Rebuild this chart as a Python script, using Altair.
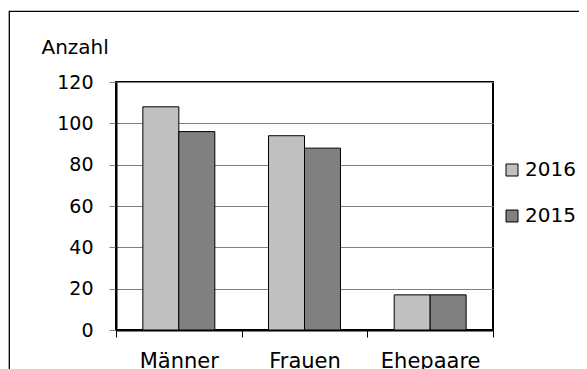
import altair as alt
import pandas as pd

categories = ["Männer", "Frauen", "Ehepaare"]
years = ["2016", "2015"]
values_2016 = [108, 94, 17]
values_2015 = [96, 88, 17]
y_ticks = [0, 20, 40, 60, 80, 100, 120]
colors = ["#c0c0c0", "#808080"]

rows = []
for i, c in enumerate(categories):
    rows.append({"Kategorie": c, "Jahr": "2016", "Anzahl": values_2016[i]})
    rows.append({"Kategorie": c, "Jahr": "2015", "Anzahl": values_2015[i]})
df = pd.DataFrame(rows)

FONT = "DejaVu Sans"

bars = alt.Chart(df).mark_bar(stroke="black", strokeWidth=1).encode(
    x=alt.X("Kategorie:N", sort=categories,
            scale=alt.Scale(paddingInner=0, paddingOuter=0),
            axis=alt.Axis(title=None, labelAngle=0, tickBand="extent",
                          domainColor="black", domainWidth=2,
                          tickColor="black", tickWidth=1, tickSize=7,
                          labelFont=FONT, labelFontSize=21, labelColor="black",
                          labelBaseline="alphabetic", labelPadding=30, grid=False)),
    xOffset=alt.XOffset("Jahr:N", sort=years,
                        scale=alt.Scale(paddingInner=0, paddingOuter=0.746)),
    y=alt.Y("Anzahl:Q", scale=alt.Scale(domain=[0, 120], nice=False),
            axis=alt.Axis(values=y_ticks, title="Anzahl", titleAngle=0,
                          titleAlign="left", titleBaseline="alphabetic",
                          titleX=-75, titleY=-29, titleFont=FONT, titleFontSize=20,
                          titleFontWeight="normal", titleColor="black",
                          labelFont=FONT, labelFontSize=19, labelColor="black",
                          labelPadding=16, tickSize=7, tickColor="#808080",
                          gridColor="#808080", gridWidth=1,
                          domainColor="black", domainWidth=2)),
    fill=alt.Fill("Jahr:N", sort=years,
                  scale=alt.Scale(domain=years, range=colors),
                  legend=alt.Legend(title=None, orient="none", legendX=386, legendY=78,
                                    symbolType="square", symbolSize=144,
                                    symbolStrokeColor="black", symbolStrokeWidth=1,
                                    labelFont=FONT, labelFontSize=20, labelColor="black",
                                    labelOffset=3, rowPadding=26, padding=0)),
)

frame = alt.Chart(pd.DataFrame({"a": [0]})).mark_rect(
    filled=False, stroke="black", strokeWidth=1.3
).encode(
    x=alt.value(-106.7), x2=alt.value(600),
    y=alt.value(-70.7), y2=alt.value(400),
)

chart = alt.layer(frame, bars).properties(
    width=377, height=248,
    autosize=alt.AutoSizeParams(type="none"),
    padding={"left": 108, "top": 74, "right": 86, "bottom": 39},
).configure_view(stroke="black", strokeWidth=2)

chart.save("out.html", embed_options={"renderer": "svg", "actions": False})
